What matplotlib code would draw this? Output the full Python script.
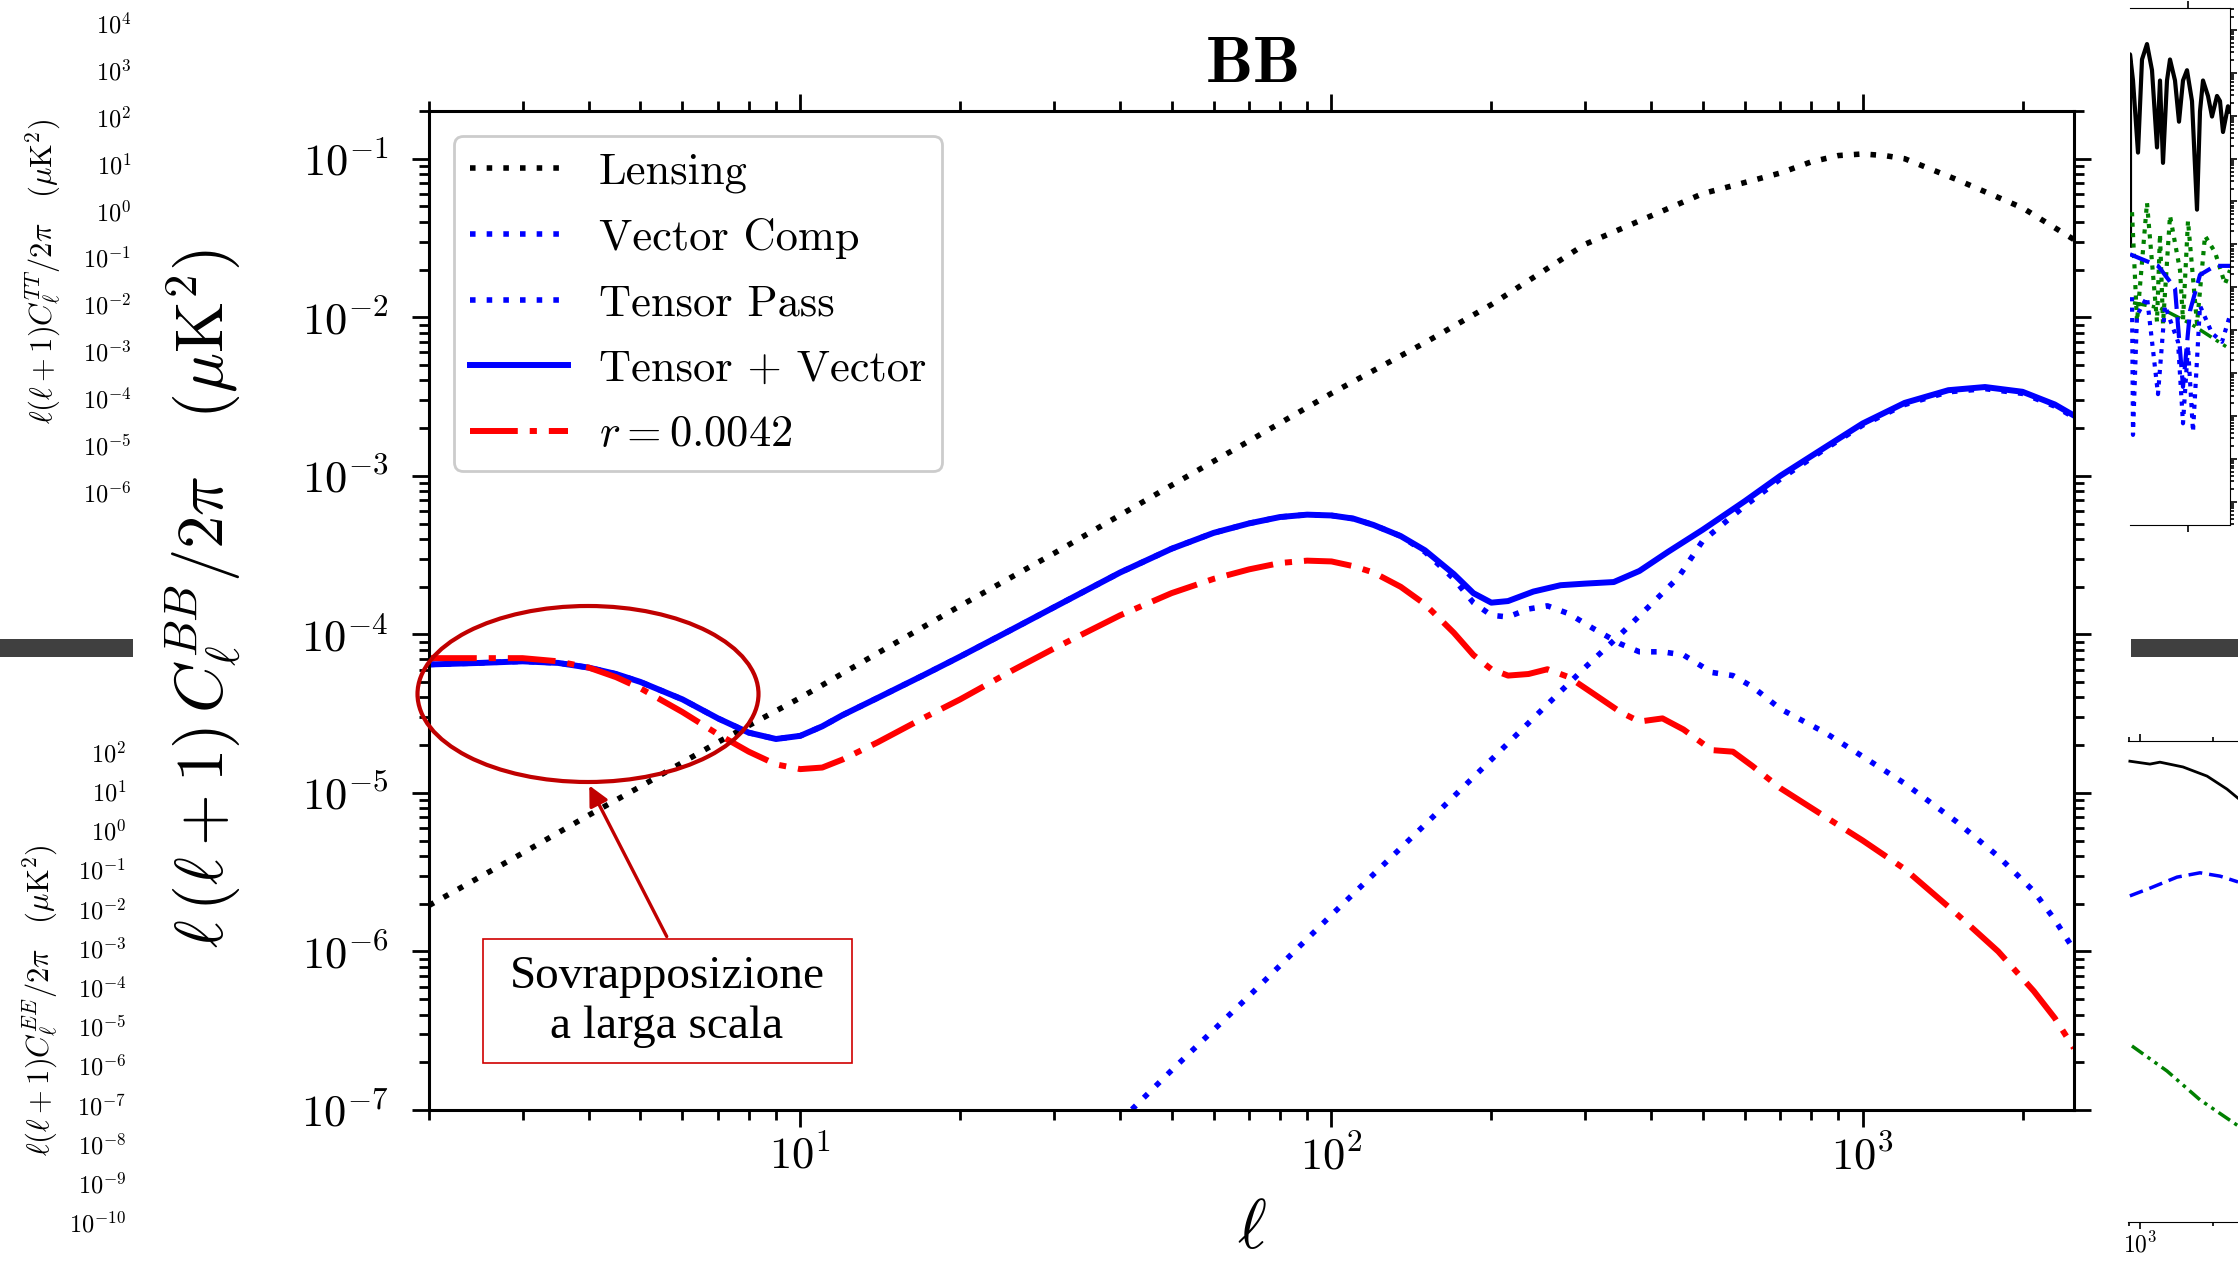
import matplotlib
matplotlib.use('Agg')
import matplotlib.pyplot as plt
import matplotlib.ticker as mticker
from matplotlib.patches import Ellipse, Rectangle, FancyArrowPatch
import numpy as np

# --- data (log10 of l(l+1)C_l/2pi in muK^2) ---
lensing_ell = [2, 3, 4, 5, 7, 10, 15, 20, 30, 50, 70, 100, 150, 200, 300, 400, 500,
               600, 700, 800, 900, 1000, 1100, 1200, 1500, 2000, 2500]
lensing_log = [-5.71, -5.38, -5.14, -4.96, -4.68, -4.40, -4.06, -3.82, -3.49, -3.06,
               -2.78, -2.48, -2.16, -1.92, -1.54, -1.36, -1.22, -1.15, -1.09, -1.02,
               -0.98, -0.97, -0.98, -1.00, -1.13, -1.31, -1.51]

tv_ell = [2, 2.5, 3, 3.5, 4, 4.5, 5, 6, 7, 8, 9, 10, 11, 12, 14, 17, 20, 25, 30, 40,
          50, 60, 70, 80, 90, 100, 110, 120, 135, 150, 170, 185, 200, 215, 240, 270,
          300, 340, 380, 430, 500, 600, 700, 850, 1000, 1200, 1450, 1700, 2000, 2300, 2500]
tv_log = [-4.19, -4.18, -4.17, -4.18, -4.21, -4.25, -4.30, -4.41, -4.53, -4.62, -4.66,
          -4.64, -4.58, -4.51, -4.40, -4.26, -4.14, -3.97, -3.83, -3.61, -3.46, -3.36,
          -3.30, -3.26, -3.245, -3.25, -3.27, -3.31, -3.38, -3.47, -3.62, -3.74, -3.80,
          -3.79, -3.73, -3.69, -3.68, -3.67, -3.60, -3.48, -3.34, -3.16, -3.00, -2.82,
          -2.67, -2.54, -2.46, -2.44, -2.47, -2.55, -2.62]

vec_ell = [2, 2.5, 3, 3.5, 4, 4.5, 5, 6, 7, 8, 9, 10, 11, 12, 14, 17, 20, 25, 30, 40,
           50, 60, 70, 80, 90, 100, 110, 120, 135, 150, 170, 185, 200, 215, 235, 255,
           280, 310, 350, 380, 420, 460, 520, 570, 620, 700, 850, 1000, 1200, 1500,
           1800, 2100, 2300, 2500]
vec_log = [-4.19, -4.18, -4.17, -4.18, -4.21, -4.25, -4.30, -4.41, -4.53, -4.62, -4.66,
           -4.64, -4.58, -4.51, -4.40, -4.26, -4.14, -3.97, -3.83, -3.61, -3.46, -3.36,
           -3.30, -3.26, -3.245, -3.25, -3.27, -3.31, -3.38, -3.48, -3.65, -3.80, -3.88,
           -3.89, -3.84, -3.82, -3.87, -3.96, -4.06, -4.11, -4.11, -4.13, -4.24, -4.26,
           -4.33, -4.47, -4.62, -4.77, -4.94, -5.18, -5.40, -5.62, -5.80, -5.99]

tens_ell = [40, 50, 70, 100, 150, 200, 250, 300, 350, 400, 450, 500, 600, 700, 850,
            1000, 1200, 1450, 1700, 2000, 2300, 2500]
tens_log = [-7.07, -6.75, -6.28, -5.77, -5.20, -4.79, -4.47, -4.21, -4.00, -3.81, -3.64,
            -3.41, -3.19, -3.02, -2.83, -2.68, -2.55, -2.47, -2.45, -2.48, -2.56, -2.63]

r_ell = [2, 2.5, 3, 3.5, 4, 4.5, 5, 6, 7, 8, 9, 10, 11, 12, 14, 17, 20, 25, 30, 40, 50,
         60, 70, 80, 90, 100, 110, 120, 135, 150, 170, 185, 200, 215, 235, 255, 280,
         310, 350, 380, 420, 460, 520, 570, 620, 700, 850, 1000, 1200, 1500, 1800,
         2100, 2300, 2500]
r_log = [-4.15, -4.15, -4.15, -4.17, -4.21, -4.27, -4.34, -4.49, -4.63, -4.74, -4.82,
         -4.85, -4.84, -4.79, -4.68, -4.53, -4.41, -4.23, -4.09, -3.88, -3.74, -3.65,
         -3.59, -3.55, -3.535, -3.54, -3.57, -3.61, -3.70, -3.81, -3.99, -4.13, -4.22,
         -4.26, -4.25, -4.22, -4.27, -4.37, -4.49, -4.55, -4.53, -4.60, -4.73, -4.74,
         -4.83, -4.97, -5.15, -5.30, -5.48, -5.76, -6.00, -6.25, -6.42, -6.61]

labels = ['Lensing', 'Vector Comp', 'Tensor Pass', 'Tensor + Vector', r'$r = 0.0042$']

# main axis tick positions (exponents)
bb_y_exponents = [-7, -6, -5, -4, -3, -2, -1]
bb_x_exponents = [1, 2, 3]

# tick labels of the neighbouring slide panels (exponents)
tt_exponents = [4, 3, 2, 1, 0, -1, -2, -3, -4, -5, -6]
ee_exponents = [2, 1, 0, -1, -2, -3, -4, -5, -6, -7, -8, -9, -10]

# top-right fragment (x fraction across the visible strip, log10 values)
frag_tt_x = [0, 0, .03, .08, .12, .17, .22, .27, .30, .33, .37, .40, .45, .49, .53, .57,
             .62, .67, .70, .73, .78, .82, .87, .90, .93, .98, 1.0]
frag_tt_log = [-2.03, 2.43, 1.82, 0.14, 2.31, 2.67, 2.06, 0.26, 1.82, -0.10, 1.82, 2.31,
               1.82, 0.86, 1.82, 2.06, 1.34, -1.19, 1.10, 1.82, 1.46, 0.98, 1.46, 1.34,
               0.62, 1.22, 1.10]
frag_gdot_x = [.02, .07, .17, .27, .30, .33, .40, .50, .53, .58, .67, .75, .85, .95, 1.0]
frag_gdot_log = [-1.25, -3.80, -1.03, -3.80, -1.76, -3.85, -1.33, -2.60, -3.76, -1.45,
                 -3.85, -1.80, -2.18, -2.92, -2.60]
frag_gdd_x = [.03, .30, .60, 1.0]
frag_gdd_log = [-3.36, -3.48, -3.84, -4.44]
frag_bdash_x = [0, .28, .45, .53, .60, .70, .85, 1.0]
frag_bdash_log = [-2.23, -2.50, -3.02, -5.32, -3.55, -2.71, -2.50, -2.50]
frag_bdot_x = [.02, .03, .07, .17, .28, .35, .48, .53, .58, .63, .70, .82, .92, 1.0]
frag_bdot_log = [-3.23, -6.44, -3.65, -3.23, -5.49, -3.43, -4.27, -6.17, -4.37, -6.37,
                 -3.43, -4.07, -4.27, -3.65]
frag_top_ticks = [0.58]

# bottom-right fragment (ell, fraction of panel height)
frag2_k_ell = [909, 1099, 1208, 1503, 1887, 2278, 2530]
frag2_k_y = [.958, .952, .956, .946, .927, .900, .881]
frag2_b_ell = [909, 1099, 1420, 1765, 2135, 2530]
frag2_b_y = [.678, .694, .717, .726, .719, .707]
frag2_g_ell = [927, 1291, 1765, 2530]
frag2_g_y = [.366, .314, .254, .200]
frag2_ticks = [1000]

# --- style ---
plt.rcParams['font.family'] = 'serif'
plt.rcParams['font.serif'] = ['cmr10']
plt.rcParams['mathtext.fontset'] = 'cm'
plt.rcParams['axes.formatter.use_mathtext'] = True
plt.rcParams['axes.unicode_minus'] = False

W, H = 2238, 1263
DARKRED = '#C00000'


def fig_rect(x0, y0, x1, y1):
    # pixel box (top-left origin) -> figure fraction [l, b, w, h]
    return [x0 / W, 1 - y1 / H, (x1 - x0) / W, (y1 - y0) / H]


fig = plt.figure(figsize=(W / 100, H / 100), dpi=100)
fig.patch.set_facecolor('white')

# --- main BB panel ---
ax = fig.add_axes(fig_rect(429, 111, 2074, 1110))
ax.set_xscale('log')
ax.set_yscale('log')

ax.plot(lensing_ell, 10.0 ** np.array(lensing_log), color='black', lw=4,
        ls=(0, (1, 2)), label=labels[0])
ax.plot(vec_ell, 10.0 ** np.array(vec_log), color='#0000FF', lw=4,
        ls=(0, (1, 2)), label=labels[1])
ax.plot(tens_ell, 10.0 ** np.array(tens_log), color='#0000FF', lw=4,
        ls=(0, (1, 2)), label=labels[2])
ax.plot(tv_ell, 10.0 ** np.array(tv_log), color='#0000FF', lw=4.3, ls='-',
        label=labels[3])
ax.plot(r_ell, 10.0 ** np.array(r_log), color='#FF0000', lw=4.3,
        ls=(0, (8, 2, 1.2, 2)), label=labels[4])

ax.set_xlim(2, 2500)
ax.set_ylim(1e-7, 0.2)

for side in ax.spines.values():
    side.set_linewidth(2.2)
ax.set_yticks(10.0 ** np.array(bb_y_exponents))
ax.set_xticks(10.0 ** np.array(bb_x_exponents))
ax.yaxis.set_minor_locator(mticker.LogLocator(base=10, subs=np.arange(2, 10), numticks=20))
ax.yaxis.set_minor_formatter(mticker.NullFormatter())
ax.xaxis.set_minor_formatter(mticker.NullFormatter())
ax.tick_params(which='both', direction='out', top=True, right=True, width=2)
ax.tick_params(which='major', length=12, labelsize=32)
ax.tick_params(which='minor', length=7)
ax.tick_params(axis='y', which='major', pad=17)
ax.tick_params(axis='x', which='major', pad=6)

ax.set_xlabel(r'$\ell$', fontsize=50)
ax.xaxis.set_label_coords(0.5, -0.09)
ax.set_ylabel(r'$\ell\,(\ell+1)\,C_\ell^{BB}/2\pi\quad(\mu{\rm K}^2)$', fontsize=48)
ax.yaxis.set_label_coords(-0.113, 0.512)
ax.text(0.5, 1.046, r'$\mathbf{BB}$', transform=ax.transAxes, ha='center',
        va='center', fontsize=48)

leg = ax.legend(loc='upper left', bbox_to_anchor=(0.0152, 0.975), borderaxespad=0,
                fontsize=32, handlelength=2.2, handletextpad=0.7, borderpad=0.36,
                labelspacing=0.57, fancybox=True, framealpha=1)
leg.get_frame().set_edgecolor('0.8')
leg.get_frame().set_linewidth(2)

# --- neighbouring panels of the slide (left tick columns) ---
ax_tt = fig.add_axes(fig_rect(134, 23, 136, 492))
ax_tt.set_yscale('log')
ax_tt.set_ylim(1e-6, 1e4)
ax_tt.set_yticks(10.0 ** np.array(tt_exponents))
ax_tt.yaxis.set_minor_locator(mticker.NullLocator())
ax_ee = fig.add_axes(fig_rect(129, 752, 131, 1222))
ax_ee.set_yscale('log')
ax_ee.set_ylim(1e-10, 1e2)
ax_ee.set_yticks(10.0 ** np.array(ee_exponents))
ax_ee.yaxis.set_minor_locator(mticker.NullLocator())
for a in (ax_tt, ax_ee):
    a.set_xticks([])
    a.patch.set_visible(False)
    for side in a.spines.values():
        side.set_visible(False)
    a.tick_params(axis='y', length=0, pad=2, labelsize=17.5)

fig.text(43 / W, 1 - 271 / H, r'$\ell(\ell+1)C_\ell^{TT}/2\pi\quad(\mu{\rm K}^2)$',
         rotation=90, ha='center', va='center', fontsize=22)
fig.text(40 / W, 1 - 1000 / H, r'$\ell(\ell+1)C_\ell^{EE}/2\pi\quad(\mu{\rm K}^2)$',
         rotation=90, ha='center', va='center', fontsize=22)

# --- right fragments ---
ax_r1 = fig.add_axes(fig_rect(2130, 8, 2230, 525))
ax_r1.set_yscale('log')
ax_r1.plot(frag_tt_x, 10.0 ** np.array(frag_tt_log), color='black', lw=3)
ax_r1.plot(frag_gdot_x, 10.0 ** np.array(frag_gdot_log), color='green', lw=3,
           ls=(0, (1, 1.5)))
ax_r1.plot(frag_gdd_x, 10.0 ** np.array(frag_gdd_log), color='green', lw=2.5,
           ls=(0, (4, 1.5, 1, 1.5, 1, 1.5)))
ax_r1.plot(frag_bdash_x, 10.0 ** np.array(frag_bdash_log), color='#0000FF', lw=3,
           ls=(0, (5, 2)))
ax_r1.plot(frag_bdot_x, 10.0 ** np.array(frag_bdot_log), color='#0000FF', lw=3,
           ls=(0, (1, 1.5)))
ax_r1.set_xlim(0, 1)
ax_r1.set_ylim(10 ** -8.54, 10 ** 3.51)
ax_r1.spines['left'].set_visible(False)
ax_r1.set_xticks(frag_top_ticks)
ax_r1.yaxis.tick_right()
ax_r1.yaxis.set_major_locator(mticker.LogLocator(base=10, numticks=20))
ax_r1.yaxis.set_minor_locator(mticker.LogLocator(base=10, subs=np.arange(2, 10), numticks=20))
ax_r1.tick_params(which='both', direction='out', top=True, bottom=True,
                  labelbottom=False, labelright=False, width=1.2)
ax_r1.tick_params(which='major', length=5)
ax_r1.tick_params(which='minor', length=3)

ax_r2 = fig.add_axes(fig_rect(2128, 741, 2240, 1222))
ax_r2.set_xscale('log')
ax_r2.plot(frag2_k_ell, frag2_k_y, color='black', lw=2)
ax_r2.plot(frag2_b_ell, frag2_b_y, color='#0000FF', lw=2.5, ls=(0, (4, 2)))
ax_r2.plot(frag2_g_ell, frag2_g_y, color='green', lw=2.5,
           ls=(0, (4, 1.5, 1, 1.5, 1, 1.5)))
ax_r2.set_xlim(893, 2577)
ax_r2.set_ylim(0, 1)
ax_r2.spines['left'].set_visible(False)
ax_r2.spines['right'].set_visible(False)
ax_r2.set_yticks([])
ax_r2.set_xticks(frag2_ticks)
ax_r2.xaxis.set_minor_formatter(mticker.NullFormatter())
ax_r2.tick_params(which='both', direction='out', top=True, bottom=True, width=1.2,
                  labelsize=17, pad=2)
ax_r2.tick_params(which='major', length=5)
ax_r2.tick_params(which='minor', length=3)

# slide separators
fig.add_artist(Rectangle((0, 1 - 657 / H), 133 / W, 18 / H, transform=fig.transFigure,
                         color='#404040', lw=0))
fig.add_artist(Rectangle((2131 / W, 1 - 657 / H), (W - 2131) / W, 18 / H,
                         transform=fig.transFigure, color='#404040', lw=0))

# --- annotation: ellipse, arrow and text box ---
fig.add_artist(Ellipse((588 / W, 1 - 694 / H), 341 / W, 176 / H, transform=fig.transFigure,
                       fill=False, ec=DARKRED, lw=3, zorder=5))
fig.add_artist(FancyArrowPatch((668 / W, 1 - 939 / H), (588 / W, 1 - 783 / H),
                               transform=fig.transFigure, arrowstyle='-|>',
                               mutation_scale=30, lw=2.4, color=DARKRED, zorder=5))
fig.add_artist(Rectangle((483 / W, 1 - 1063 / H), (852 - 483) / W, (1063 - 939) / H,
                         transform=fig.transFigure, fc='white', ec='#D00000', lw=1.2,
                         zorder=6))
fig.text(667 / W, 1 - 1002 / H, 'Sovrapposizione\na larga scala', ha='center',
         va='center', fontsize=34, family='Liberation Serif', linespacing=1.22,
         zorder=7)

fig.savefig('out.png', dpi=100, facecolor='white')
